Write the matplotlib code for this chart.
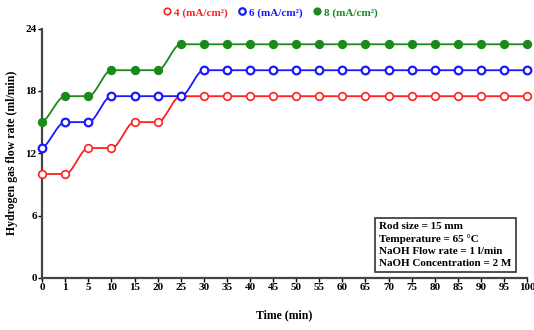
import numpy as np
import matplotlib.pyplot as plt

plt.rcParams['font.family'] = ['Liberation Serif', 'DejaVu Serif']
plt.rcParams['font.weight'] = 'bold'

time_labels = ['0', '1', '5', '10', '15', '20', '25', '30', '35', '40', '45', '50',
               '55', '60', '65', '70', '75', '80', '85', '90', '95', '100']
rate_4 = [10, 10, 12.5, 12.5, 15, 15, 17.5, 17.5, 17.5, 17.5, 17.5, 17.5,
          17.5, 17.5, 17.5, 17.5, 17.5, 17.5, 17.5, 17.5, 17.5, 17.5]
rate_6 = [12.5, 15, 15, 17.5, 17.5, 17.5, 17.5, 20, 20, 20, 20, 20,
          20, 20, 20, 20, 20, 20, 20, 20, 20, 20]
rate_8 = [15, 17.5, 17.5, 20, 20, 20, 22.5, 22.5, 22.5, 22.5, 22.5, 22.5,
          22.5, 22.5, 22.5, 22.5, 22.5, 22.5, 22.5, 22.5, 22.5, 22.5]
labels = ['4 (mA/cm²)', '6 (mA/cm²)', '8 (mA/cm²)']
colors = ['#ff2020', '#1a1aff', '#1a8a1a']


def pchip(x, y, xs):
    # monotone cubic curve through the points (Fritsch-Carlson)
    x = np.asarray(x, float)
    y = np.asarray(y, float)
    h = np.diff(x)
    d = np.diff(y) / h
    m = np.zeros_like(y)
    for k in range(1, len(y) - 1):
        if d[k - 1] * d[k] > 0:
            w1 = 2 * h[k] + h[k - 1]
            w2 = h[k] + 2 * h[k - 1]
            m[k] = (w1 + w2) / (w1 / d[k - 1] + w2 / d[k])
    m[0] = d[0] if d[0] == 0 else d[0] * 0.5
    m[-1] = 0
    idx = np.clip(np.searchsorted(x, xs) - 1, 0, len(h) - 1)
    t = (xs - x[idx]) / h[idx]
    h00 = 2 * t**3 - 3 * t**2 + 1
    h10 = t**3 - 2 * t**2 + t
    h01 = -2 * t**3 + 3 * t**2
    h11 = t**3 - t**2
    return (h00 * y[idx] + h10 * h[idx] * m[idx] + h01 * y[idx + 1]
            + h11 * h[idx] * m[idx + 1])


fig = plt.figure(figsize=(5.34, 3.30), dpi=100)
ax = fig.add_axes([0.079, 0.158, 0.908, 0.755])

xpos = np.arange(len(time_labels))
xs = np.linspace(0, len(time_labels) - 1, 800)
handles = []
for vals, c, lab, filled in zip([rate_4, rate_6, rate_8], colors, labels,
                                [False, False, True]):
    ax.plot(xs, pchip(xpos, vals, xs), color=c, lw=1.3, zorder=2)
    h, = ax.plot(xpos, vals, 'o', ms=5.5, mec=c, mew=1.6 if c == colors[1] else 1.2,
                 mfc=c if filled else 'white', zorder=3, label=lab)
    handles.append(h)

ax.set_xlim(0, len(time_labels) - 1)
ax.set_ylim(0, 24)
ax.set_xticks(xpos)
ax.set_xticklabels(time_labels)
ax.set_yticks([0, 6, 12, 18, 24])
ax.tick_params(labelsize=8, length=3, width=1, pad=1)
for s in ['top', 'right']:
    ax.spines[s].set_visible(False)
for s in ['left', 'bottom']:
    ax.spines[s].set_linewidth(1.6)
    ax.spines[s].set_color('#444444')
for art in ax.lines:
    art.set_clip_on(False)

ax.set_xlabel('Time (min)', fontsize=8.5, fontweight='bold', labelpad=12)
ax.set_ylabel('Hydrogen gas flow rate (ml/min)', fontsize=8.5, fontweight='bold', labelpad=5)

ax.text(0.695, 0.04,
        'Rod size = 15 mm\nTemperature = 65 °C\nNaOH Flow rate = 1 l/min\nNaOH Concentration = 2 M',
        transform=ax.transAxes, fontsize=8, fontweight='bold', va='bottom', ha='left',
        linespacing=1.4,
        bbox=dict(boxstyle='square,pad=0.4', fc='white', ec='#333333', lw=1.2))

leg = fig.legend(handles=handles, loc='center', bbox_to_anchor=(0.505, 0.962), ncol=3,
                 frameon=False, fontsize=8, handletextpad=0.1, columnspacing=0.8,
                 handlelength=1.0, markerscale=0.85)
for t, c in zip(leg.get_texts(), colors):
    t.set_color(c)
    t.set_fontweight('bold')

fig.savefig('out.png', dpi=100)
